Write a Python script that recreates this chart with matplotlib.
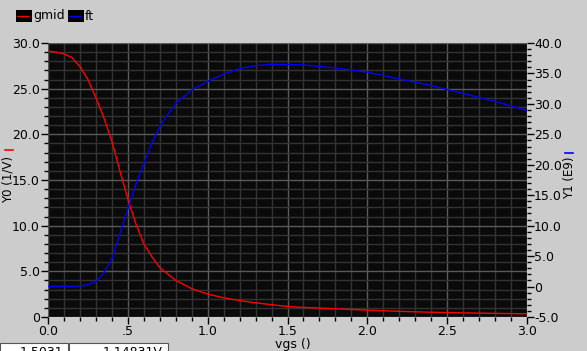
import matplotlib
matplotlib.use("Agg")
import matplotlib.pyplot as plt
from matplotlib.patches import Rectangle
from matplotlib.lines import Line2D
from matplotlib.ticker import MultipleLocator, FixedLocator

# sweep values
vgs = [0.0, 0.05, 0.1, 0.15, 0.2, 0.25, 0.3, 0.35, 0.4, 0.45, 0.5, 0.55, 0.6, 0.65, 0.7,
       0.8, 0.9, 1.0, 1.1, 1.2, 1.3, 1.4, 1.5, 1.6, 1.8, 2.0, 2.2, 2.4, 2.6, 2.8, 3.0]
gmid = [29.1, 29.0, 28.8, 28.4, 27.4, 26.0, 24.0, 21.8, 19.2, 16.0, 12.9, 10.2, 8.0, 6.6, 5.4,
        4.0, 3.1, 2.5, 2.1, 1.8, 1.55, 1.35, 1.15, 1.05, 0.9, 0.75, 0.62, 0.52, 0.45, 0.4, 0.35]
ft = [0.05, 0.05, 0.05, 0.05, 0.1, 0.3, 0.8, 2.3, 4.6, 8.7, 12.8, 16.8, 20.3, 23.6, 26.4,
      30.1, 32.3, 33.7, 34.9, 35.8, 36.3, 36.5, 36.5, 36.4, 35.9, 35.2, 34.1, 33.0, 31.7, 30.4, 28.9]

x_ticks = [0.0, 0.5, 1.0, 1.5, 2.0, 2.5, 3.0]
x_labels = ["0.0", ".5", "1.0", "1.5", "2.0", "2.5", "3.0"]
y0_ticks = [0, 5, 10, 15, 20, 25, 30]
y0_labels = ["0", "5.0", "10.0", "15.0", "20.0", "25.0", "30.0"]
y1_ticks = [-5, 0, 5, 10, 15, 20, 25, 30, 35, 40]
y1_labels = ["-5.0", "0", "5.0", "10.0", "15.0", "20.0", "25.0", "30.0", "35.0", "40.0"]
cursor_vals = ["1.5031", "1.14831V"]

W, H = 587, 351
BG = "#cccccc"
FS = 9


def fx(px):
    return px / W


def fy(py):
    return 1 - py / H


fig = plt.figure(figsize=(W / 100, H / 100), dpi=100, facecolor=BG)
ax = fig.add_axes([fx(48), fy(317), (527 - 48) / W, (317 - 43) / H])
ax.set_facecolor("#0a0a0a")
for s in ax.spines.values():
    s.set_visible(False)

ax.plot(vgs, gmid, color="#ff0000", linewidth=1.0, zorder=3)
ax.set_xlim(0, 3.0)
ax.set_ylim(0, 30)

ax.xaxis.set_major_locator(FixedLocator(x_ticks))
ax.set_xticklabels(x_labels)
ax.xaxis.set_minor_locator(MultipleLocator(0.1))
ax.yaxis.set_major_locator(FixedLocator(y0_ticks))
ax.set_yticklabels(y0_labels)
ax.yaxis.set_minor_locator(MultipleLocator(1))
ax.grid(which="major", color="#5a5a5a", linewidth=1.0)
ax.grid(which="minor", color="#333333", linewidth=1.0)
ax.set_axisbelow(True)
ax.tick_params(which="major", direction="out", length=5, width=1, color="black",
               labelsize=FS, pad=1)
ax.tick_params(which="minor", direction="out", length=3, width=1, color="black")
ax.tick_params(axis="x", which="major", pad=1)

ax2 = ax.twinx()
for s in ax2.spines.values():
    s.set_visible(False)
ax2.plot(vgs, ft, color="#0000ff", linewidth=1.0, zorder=3)
ax2.set_ylim(-5, 40)
ax2.yaxis.set_major_locator(FixedLocator(y1_ticks))
ax2.set_yticklabels(y1_labels)
ax2.yaxis.set_minor_locator(MultipleLocator(1))
ax2.tick_params(which="major", direction="out", length=5, width=1, color="black",
                labelsize=FS, pad=0)
ax2.tick_params(which="minor", direction="out", length=3, width=1, color="black")

# axis titles with their coloured trace markers
fig.text(fx(8), fy(180), "Y0 (1/V)", rotation=90, ha="center", va="center", fontsize=8.5)
fig.add_artist(Line2D([fx(5), fx(13)], [fy(150), fy(150)], color="#ff0000", linewidth=1.2))
fig.text(fx(570), fy(178), "Y1 (E9)", rotation=90, ha="center", va="center", fontsize=8.5)
fig.add_artist(Line2D([fx(565), fx(573)], [fy(153), fy(153)], color="#0000ff", linewidth=1.2))
fig.text(fx(293), fy(344.5), "vgs ()", ha="center", va="center", fontsize=FS)

# legend strip
legend = [("gmid", "#ff0000", 16), ("ft", "#0000ff", 68)]
for name, col, x0 in legend:
    fig.add_artist(Rectangle((fx(x0), fy(22)), 16 / W, 12 / H, transform=fig.transFigure,
                             facecolor="black", edgecolor="none"))
    fig.add_artist(Line2D([fx(x0 + 1), fx(x0 + 12)], [fy(15.5), fy(15.5)], color=col,
                          linewidth=1.0))
    fig.text(fx(x0 + 17), fy(16), name, ha="left", va="center", fontsize=FS)

# cursor readout boxes, cut off by the bottom edge
boxes = [(0, 68), (69, 168)]
for (x0, x1), val in zip(boxes, cursor_vals):
    fig.add_artist(Rectangle((fx(x0), fy(360)), (x1 - x0) / W, 16.7 / H, transform=fig.transFigure,
                             facecolor="white", edgecolor="#555555", linewidth=0.8))
    fig.text(fx(x1 - 5), fy(346.5), val, ha="right", va="top", fontsize=FS)

fig.savefig("out.png", dpi=100, facecolor=BG)
